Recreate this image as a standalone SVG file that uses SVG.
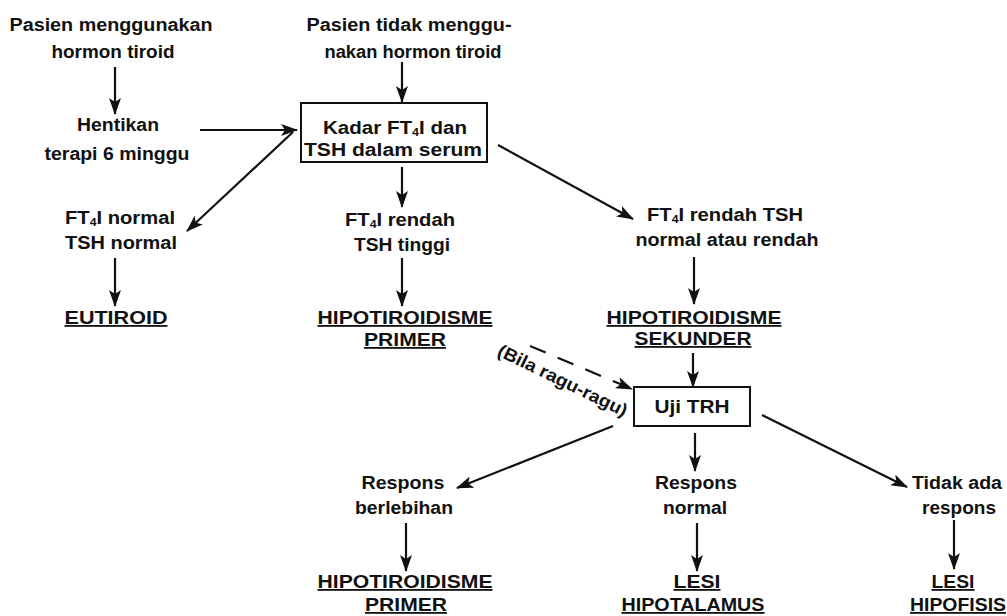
<svg xmlns="http://www.w3.org/2000/svg" width="1007" height="616" viewBox="0 0 1007 616">
<style>
text{font-family:"Liberation Sans",Arial,sans-serif;font-weight:bold;font-size:18px;fill:#111}
.m{text-anchor:middle}
.u{text-decoration:underline}
.s{font-size:11px}
.c line{stroke:#111;stroke-width:2.2;fill:none;marker-end:url(#ah)}
.c .d{stroke-dasharray:17 13}
.box{fill:#fff;stroke:#111;stroke-width:2}
</style>
<defs>
<marker id="ah" markerUnits="userSpaceOnUse" markerWidth="17" markerHeight="12" refX="16" refY="6" orient="auto">
<path d="M0,0 L17,6 L0,12 L4,6 z" fill="#111"/>
</marker>
</defs>
<rect width="1007" height="616" fill="#fff"/>

<g id="n-pasien-guna">
<text class="m" x="111" y="31" textLength="203" lengthAdjust="spacingAndGlyphs">Pasien menggunakan</text>
<text class="m" x="113" y="58" textLength="123" lengthAdjust="spacingAndGlyphs">hormon tiroid</text>
</g>
<g id="n-hentikan">
<text class="m" x="118" y="131" textLength="82" lengthAdjust="spacingAndGlyphs">Hentikan</text>
<text class="m" x="117" y="160" textLength="145" lengthAdjust="spacingAndGlyphs">terapi 6 minggu</text>
</g>
<g id="n-pasien-tidak">
<text class="m" x="409" y="31" textLength="205" lengthAdjust="spacingAndGlyphs">Pasien tidak menggu-</text>
<text class="m" x="413" y="58" textLength="177" lengthAdjust="spacingAndGlyphs">nakan hormon tiroid</text>
</g>
<g id="n-kadar">
<rect class="box" x="301" y="103" width="186" height="59"/>
<text class="m" x="395" y="134" textLength="144" lengthAdjust="spacingAndGlyphs">Kadar FT<tspan class="s" dy="2">4</tspan><tspan dy="-2">I dan</tspan></text>
<text class="m" x="393" y="156" textLength="178" lengthAdjust="spacingAndGlyphs">TSH dalam serum</text>
</g>
<g id="n-normal">
<text x="65" y="224" textLength="110" lengthAdjust="spacingAndGlyphs">FT<tspan class="s" dy="2">4</tspan><tspan dy="-2">I normal</tspan></text>
<text x="65" y="249" textLength="112" lengthAdjust="spacingAndGlyphs">TSH normal</text>
</g>
<g id="n-eutiroid">
<text class="m u" x="116" y="324" textLength="103" lengthAdjust="spacingAndGlyphs">EUTIROID</text>
</g>
<g id="n-rendah-tinggi">
<text class="m" x="400" y="226" textLength="110" lengthAdjust="spacingAndGlyphs">FT<tspan class="s" dy="2">4</tspan><tspan dy="-2">I rendah</tspan></text>
<text class="m" x="402" y="251" textLength="96" lengthAdjust="spacingAndGlyphs">TSH tinggi</text>
</g>
<g id="n-primer1">
<text class="m u" x="405" y="324" textLength="175" lengthAdjust="spacingAndGlyphs">HIPOTIROIDISME</text>
<text class="m u" x="405" y="346" textLength="82" lengthAdjust="spacingAndGlyphs">PRIMER</text>
</g>
<g id="n-rendah-normal">
<text class="m" x="725" y="221" textLength="156" lengthAdjust="spacingAndGlyphs">FT<tspan class="s" dy="2">4</tspan><tspan dy="-2">I rendah TSH</tspan></text>
<text class="m" x="727" y="246" textLength="183" lengthAdjust="spacingAndGlyphs">normal atau rendah</text>
</g>
<g id="n-sekunder">
<text class="m u" x="694" y="324" textLength="175" lengthAdjust="spacingAndGlyphs">HIPOTIROIDISME</text>
<text class="m u" x="693" y="345" textLength="117" lengthAdjust="spacingAndGlyphs">SEKUNDER</text>
</g>
<g id="n-trh">
<rect class="box" x="634" y="387" width="116" height="39"/>
<text class="m" x="692" y="413" textLength="75" lengthAdjust="spacingAndGlyphs">Uji TRH</text>
</g>
<g id="n-berlebihan">
<text class="m" x="403" y="489" textLength="83" lengthAdjust="spacingAndGlyphs">Respons</text>
<text class="m" x="404" y="514" textLength="98" lengthAdjust="spacingAndGlyphs">berlebihan</text>
</g>
<g id="n-primer2">
<text class="m u" x="405" y="588" textLength="175" lengthAdjust="spacingAndGlyphs">HIPOTIROIDISME</text>
<text class="m u" x="406" y="611" textLength="82" lengthAdjust="spacingAndGlyphs">PRIMER</text>
</g>
<g id="n-resp-normal">
<text class="m" x="696" y="489" textLength="82" lengthAdjust="spacingAndGlyphs">Respons</text>
<text class="m" x="695" y="514" textLength="64" lengthAdjust="spacingAndGlyphs">normal</text>
</g>
<g id="n-hipotalamus">
<text class="m u" x="697" y="588" textLength="47" lengthAdjust="spacingAndGlyphs">LESI</text>
<text class="m u" x="693" y="611" textLength="143" lengthAdjust="spacingAndGlyphs">HIPOTALAMUS</text>
</g>
<g id="n-tidak-ada">
<text class="m" x="957" y="489" textLength="90" lengthAdjust="spacingAndGlyphs">Tidak ada</text>
<text class="m" x="959" y="514" textLength="74" lengthAdjust="spacingAndGlyphs">respons</text>
</g>
<g id="n-hipofisis">
<text class="m u" x="953" y="588" textLength="43" lengthAdjust="spacingAndGlyphs">LESI</text>
<text class="m u" x="958" y="611" textLength="96" lengthAdjust="spacingAndGlyphs">HIPOFISIS</text>
</g>

<g id="connectors" class="c">
<line x1="115" y1="67" x2="115" y2="114"/>
<line x1="200" y1="130" x2="297" y2="130"/>
<line x1="402" y1="62" x2="402" y2="102"/>
<line x1="402" y1="167" x2="402" y2="207"/>
<line x1="293" y1="132" x2="187" y2="231"/>
<line x1="498" y1="145" x2="633" y2="219"/>
<line x1="115" y1="258" x2="115" y2="306"/>
<line x1="402" y1="258" x2="402" y2="306"/>
<line x1="694" y1="257" x2="694" y2="304"/>
<line x1="693" y1="353" x2="693" y2="387"/>
<line class="d" x1="530" y1="346" x2="632" y2="389"/>
<line x1="613" y1="426" x2="457" y2="488"/>
<line x1="695" y1="433" x2="695" y2="471"/>
<line x1="762" y1="415" x2="907" y2="487"/>
<line x1="406" y1="523" x2="406" y2="571"/>
<line x1="697" y1="523" x2="697" y2="571"/>
<line x1="954" y1="520" x2="954" y2="569"/>
</g>
<g id="label-bila">
<text class="m" transform="translate(560,386) rotate(26)" x="0" y="0" textLength="142" lengthAdjust="spacingAndGlyphs">(Bila ragu-ragu)</text>
</g>
</svg>
